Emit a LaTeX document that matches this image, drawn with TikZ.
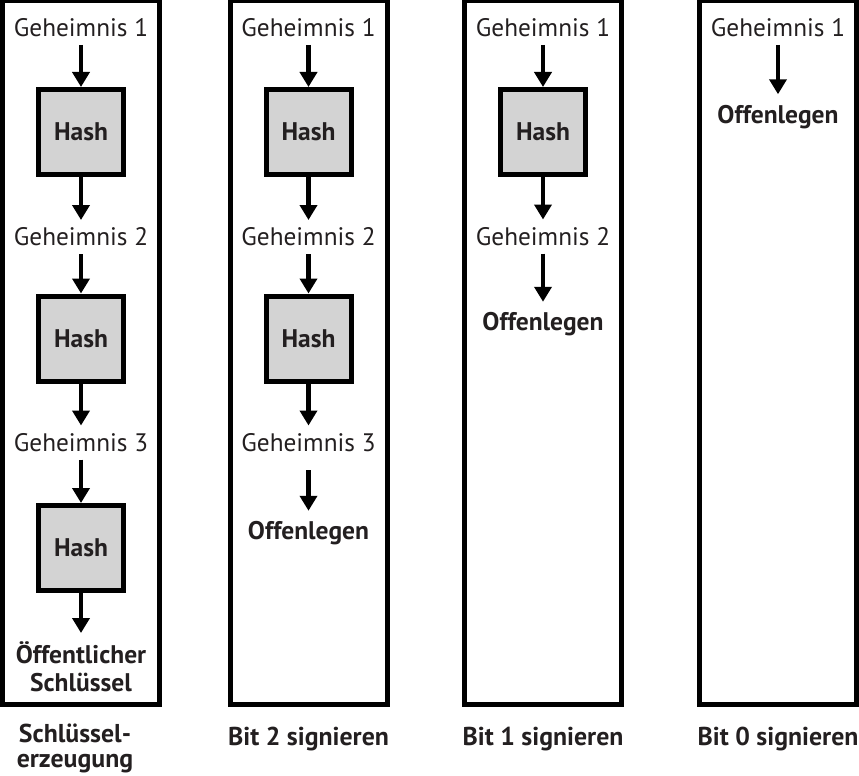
\documentclass[tikz,border=0pt]{standalone}
\usepackage{fontspec}
\setmainfont{PT Sans}
\usepackage{tikz}
\usetikzlibrary{arrows.meta}
\usepackage{xcolor}
\definecolor{ink}{RGB}{35,31,32}
\definecolor{hashgray}{RGB}{211,211,211}

\begin{document}
\begin{tikzpicture}[x=1pt,y=-1pt,line cap=butt,
  font=\fontsize{25.3}{28}\selectfont,
  >={Triangle[length=15pt,width=17pt]},
  arr/.style={->,line width=4.5pt},
  column/.style={line width=5pt},
  secret/.style={text=ink,text height=17pt,text depth=0pt,inner xsep=0pt,inner ysep=8.5pt,outer sep=0pt},
  hashbox/.style={draw,line width=5pt,fill=hashgray,minimum size=85pt,inner sep=0pt,text=ink,font=\fontsize{25.5}{28}\selectfont\bfseries,text height=17pt,text depth=0pt},
  reveal/.style={text=ink,font=\fontsize{25.5}{28}\selectfont\bfseries,text height=16.5pt,text depth=0pt,inner xsep=0pt,inner ysep=12.5pt,outer sep=0pt},
  caption/.style={text=ink,font=\fontsize{25.8}{25}\selectfont\bfseries,align=center,inner sep=0pt}]
\useasboundingbox (0,0) rectangle (859,776);
\foreach \x in {2.5,230.5,464.5,699.5}
  \draw[column] (\x,0.5) rectangle ++(157,703.5);
% Schluesselerzeugung
\node[secret] (g11) at (81,28) {Geheimnis 1};
\node[hashbox] (h11) at (81,132) {Hash};
\node[secret] (g12) at (81,237) {Geheimnis 2};
\node[hashbox] (h12) at (81,338.5) {Hash};
\node[secret] (g13) at (81,442.5) {Geheimnis 3};
\node[hashbox] (h13) at (81,548) {Hash};
\node[caption,anchor=north,inner ysep=8pt,font=\fontsize{25.5}{28.5}\selectfont\bfseries] (pk) at (81,633) {Öffentlicher\\Schlüssel};
\draw[arr] (g11) -- (h11);
\draw[arr] (h11) -- (g12);
\draw[arr] (g12) -- (h12);
\draw[arr] (h12) -- (g13);
\draw[arr] (g13) -- (h13);
\draw[arr] (h13) -- (pk);
% Bit 2
\node[secret] (g21) at (308.5,28) {Geheimnis 1};
\node[hashbox] (h21) at (308.5,132) {Hash};
\node[secret] (g22) at (308.5,237) {Geheimnis 2};
\node[hashbox] (h22) at (308.5,338.5) {Hash};
\node[secret] (g23) at (308.5,442.5) {Geheimnis 3};
\node[reveal] (r2) at (308.5,531.5) {Offenlegen};
\draw[arr] (g21) -- (h21);
\draw[arr] (h21) -- (g22);
\draw[arr] (g22) -- (h22);
\draw[arr] (h22) -- (g23);
\draw[arr,shorten <=10.5pt] (g23) -- (r2);
% Bit 1
\node[secret] (g31) at (543,28) {Geheimnis 1};
\node[hashbox] (h31) at (543,132) {Hash};
\node[secret] (g32) at (543,236.5) {Geheimnis 2};
\node[reveal] (r3) at (543,322.5) {Offenlegen};
\draw[arr] (g31) -- (h31);
\draw[arr] (h31) -- (g32);
\draw[arr] (g32) -- (r3);
% Bit 0
\node[secret] (g41) at (778,28) {Geheimnis 1};
\node[reveal] (r4) at (778,115) {Offenlegen};
\draw[arr] (g41) -- (r4);
% captions
\node[caption,anchor=north] (c1) at (75,724) {Schlüssel-\\erzeugung};
\node[caption,text height=16.5pt,text depth=0pt] (c2) at (308.5,737.5) {Bit 2 signieren};
\node[caption,text height=16.5pt,text depth=0pt] (c3) at (543,737.5) {Bit 1 signieren};
\node[caption,text height=16.5pt,text depth=0pt] (c4) at (778,737.5) {Bit 0 signieren};
\end{tikzpicture}
\end{document}
